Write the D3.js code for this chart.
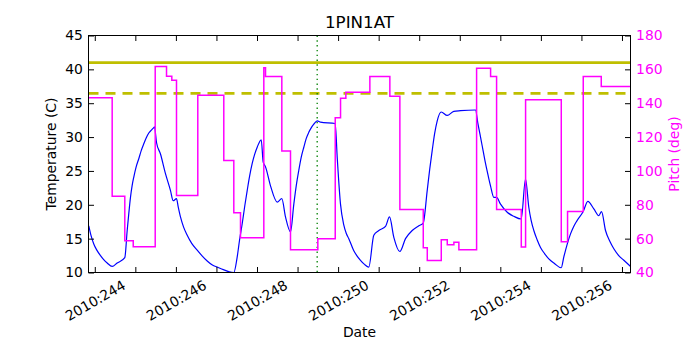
<!DOCTYPE html>
<html>
<head>
<meta charset="utf-8">
<script src="https://cdn.jsdelivr.net/npm/d3@7"></script>
<style>
  html, body { margin: 0; padding: 0; background: #ffffff; }
  svg { display: block; }
  text { font-family: "DejaVu Sans", sans-serif; }
</style>
</head>
<body>
<svg id="chart" width="700" height="350"></svg>
<script>
// ---- data ----
const title = "1PIN1AT";
const xTickDays = [244, 245, 246, 247, 248, 249, 250, 251, 252, 253, 254, 255, 256, 257];
const xLabelDays = [244, 246, 248, 250, 252, 254, 256];
const yLeftTicks = [10, 15, 20, 25, 30, 35, 40, 45];
const yRightTicks = [40, 60, 80, 100, 120, 140, 160, 180];
const xDomain = [243.845, 257.21];

const tempDays = [243.852, 243.91, 243.975, 244.05, 244.141, 244.22, 244.306, 244.429, 244.552, 244.740,
  244.799, 244.84, 244.880, 244.92, 244.962, 245.02, 245.085, 245.145, 245.208, 245.27,
  245.332, 245.39, 245.455, 245.472, 245.522, 245.620, 245.743, 245.867, 245.933, 246.015,
  246.06, 246.113, 246.19, 246.279, 246.39, 246.525, 246.64, 246.772, 246.9, 247.018,
  247.100, 247.428, 247.512, 247.57, 247.635, 247.70, 247.758, 247.82, 247.882, 247.94,
  248.005, 248.104, 248.153, 248.210, 248.333, 248.498, 248.612, 248.703, 248.826, 248.908,
  248.97, 249.031, 249.09, 249.154, 249.215, 249.277, 249.34, 249.401, 249.485, 249.566,
  249.928, 249.978, 250.059, 250.141, 250.2, 250.264, 250.387, 250.46, 250.552, 250.65,
  250.757, 250.880, 251.004, 251.169, 251.268, 251.374, 251.522, 251.662, 251.827, 251.990,
  252.099, 252.197, 252.26, 252.320, 252.38, 252.444, 252.543, 252.690, 252.853, 253.018,
  253.388, 253.45, 253.512, 253.575, 253.635, 253.70, 253.758, 253.840, 253.906, 254.005,
  254.170, 254.333, 254.515, 254.621, 254.703, 254.76, 254.826, 254.91, 254.991, 255.09,
  255.196, 255.34, 255.502, 255.566, 255.65, 255.731, 255.81, 255.896, 256.044, 256.158,
  256.306, 256.429, 256.496, 256.594, 256.70, 256.799, 256.92, 257.046, 257.211];
const temps = [16.9, 15.4, 14.2, 13.3, 12.5, 11.9, 11.4, 10.9, 11.4, 12.2,
  16.2, 18.8, 21.1, 22.8, 24.1, 25.6, 26.8, 28.0, 29.0, 29.9,
  30.6, 31.0, 31.4, 31.5, 29.2, 27.5, 24.6, 22.1, 20.6, 20.9,
  19.6, 18.2, 16.7, 15.5, 14.3, 13.3, 12.5, 11.7, 11.1, 10.8,
  10.6, 10.0, 12.3, 14.8, 17.2, 19.9, 22.1, 24.3, 26.1, 27.4,
  28.5, 29.6, 26.3, 25.6, 22.8, 20.4, 20.9, 18.2, 16.0, 20.1,
  22.9, 25.1, 27.0, 28.5, 29.8, 30.7, 31.4, 31.9, 32.4, 32.2,
  32.0, 27.0, 20.1, 17.0, 15.8, 15.0, 13.2, 12.5, 11.8, 11.2,
  10.8, 15.5, 16.2, 16.8, 18.2, 15.2, 13.1, 15.0, 16.2, 16.9,
  17.3, 22.1, 25.3, 28.0, 30.5, 32.4, 33.7, 33.2, 33.8, 33.9,
  34.0, 31.9, 30.0, 28.0, 26.1, 24.3, 22.8, 21.1, 21.1, 20.1,
  18.9, 18.3, 17.9, 23.8, 19.6, 17.7, 16.2, 14.8, 13.7, 12.8,
  12.0, 11.3, 10.7, 12.3, 14.2, 15.7, 16.8, 17.7, 19.0, 20.5,
  19.4, 18.4, 19.0, 16.2, 14.6, 13.5, 12.5, 11.8, 10.9];

const pitchDays = [243.845, 244.429, 244.740, 244.948, 245.490, 245.769, 245.899, 246.015, 246.540, 247.181,
  247.428, 247.593, 248.168, 248.210, 248.612, 248.826, 249.500, 249.929, 250.060, 250.191,
  250.783, 251.276, 251.523, 252.100, 252.199, 252.544, 252.692, 252.855, 252.978, 253.415,
  253.760, 253.908, 254.517, 254.623, 255.503, 255.658, 256.045, 256.489, 257.21];
const pitchVals = [143.2, 85.1, 58.7, 55.2, 161.7, 156.0, 153.6, 85.5, 144.7, 106.2,
  75.3, 60.5, 161.0, 155.8, 111.7, 53.4, 59.9, 131.4, 143.0, 146.5,
  155.8, 144.1, 77.2, 54.6, 47.1, 59.3, 56.4, 57.9, 53.4, 160.7,
  155.8, 77.2, 55.0, 142.0, 58.1, 76.0, 155.8, 149.9, 149.9];

const limitSolid = [41.0];
const limitDashed = [36.45];
const markerDay = [249.484];

// ---- layout ----
const L = 88.5, R = 630.5, T = 35.5, B = 272.5;
const svg = d3.select("#chart");

const x = d3.scaleLinear().domain(xDomain).range([L, R]);
const yL = d3.scaleLinear().domain([10, 45]).range([B, T]);
const yR = d3.scaleLinear().domain([40, 180]).range([B, T]);

svg.append("defs").append("clipPath").attr("id", "plotclip")
  .append("rect").attr("x", L).attr("y", T).attr("width", R - L).attr("height", B - T);

const plot = svg.append("g").attr("clip-path", "url(#plotclip)");

// temperature line
const tempData = tempDays.map((d, i) => [d, temps[i]]);
plot.append("path").datum(tempData)
  .attr("fill", "none").attr("stroke", "#0000ff").attr("stroke-width", 1.2)
  .attr("stroke-linejoin", "round")
  .attr("d", d3.line().curve(d3.curveMonotoneX).x(d => x(d[0])).y(d => yL(d[1])));

// limit lines
plot.selectAll(".lim-solid").data(limitSolid).enter().append("line")
  .attr("x1", L).attr("x2", R).attr("y1", d => yL(d)).attr("y2", d => yL(d))
  .attr("stroke", "#bfbf00").attr("stroke-width", 2.8);
plot.selectAll(".lim-dash").data(limitDashed).enter().append("line")
  .attr("x1", L).attr("x2", R).attr("y1", d => yL(d)).attr("y2", d => yL(d))
  .attr("stroke", "#bfbf00").attr("stroke-width", 2.8).attr("stroke-dasharray", "10,7");

// marker vertical line
plot.selectAll(".marker").data(markerDay).enter().append("line")
  .attr("x1", d => x(d)).attr("x2", d => x(d)).attr("y1", T).attr("y2", B)
  .attr("stroke", "#008000").attr("stroke-width", 1.3).attr("stroke-dasharray", "1.4,3.4");

// pitch step line
const pitchData = pitchDays.map((d, i) => [d, pitchVals[i]]);
plot.append("path").datum(pitchData)
  .attr("fill", "none").attr("stroke", "#ff00ff").attr("stroke-width", 1.5)
  .attr("d", d3.line().curve(d3.curveStepAfter).x(d => x(d[0])).y(d => yR(d[1])));

// ---- axes ----
const tick = 5.5, pad = 5.6;
const fs = "13.9px";

const gB = svg.append("g").attr("transform", `translate(0,${B})`)
  .call(d3.axisBottom(x).tickValues(xTickDays).tickSize(-tick).tickPadding(pad)
    .tickFormat(d => xLabelDays.includes(d) ? "2010:" + d : ""));
gB.selectAll("text")
  .attr("y", 0).attr("dy", "0.35em").attr("text-anchor", "middle")
  .attr("transform", "translate(0,28) rotate(-30)")
  .style("font-size", fs).attr("fill", "#000");

const gT = svg.append("g").attr("transform", `translate(0,${T})`)
  .call(d3.axisTop(x).tickValues(xTickDays).tickSize(-tick).tickFormat(""));

const gL = svg.append("g").attr("transform", `translate(${L},0)`)
  .call(d3.axisLeft(yL).tickValues(yLeftTicks).tickSize(-tick).tickPadding(pad));
gL.selectAll("text").style("font-size", fs).attr("fill", "#000");

const gR = svg.append("g").attr("transform", `translate(${R},0)`)
  .call(d3.axisRight(yR).tickValues(yRightTicks).tickSize(-tick).tickPadding(pad));
gR.selectAll("text").style("font-size", fs).attr("fill", "#ff00ff");

[gB, gT, gL, gR].forEach(g => {
  g.select(".domain").remove();
  g.selectAll(".tick line").attr("stroke", "#000").attr("stroke-width", 1);
  g.selectAll("text").style("font-family", "DejaVu Sans");
});

// frame
svg.append("rect").attr("x", L).attr("y", T).attr("width", R - L).attr("height", B - T)
  .attr("fill", "none").attr("stroke", "#000").attr("stroke-width", 1);

// labels
svg.append("text").attr("x", (L + R) / 2).attr("y", 28).attr("text-anchor", "middle")
  .style("font-size", "16.7px").text(title);
svg.append("text").attr("x", (L + R) / 2).attr("y", 337).attr("text-anchor", "middle")
  .style("font-size", fs).text("Date");
svg.append("text").attr("transform", `translate(56,${(T + B) / 2}) rotate(-90)`)
  .attr("text-anchor", "middle").style("font-size", fs).text("Temperature (C)");
svg.append("text").attr("transform", `translate(679,${(T + B) / 2}) rotate(-90)`)
  .attr("text-anchor", "middle").style("font-size", fs).attr("fill", "#ff00ff").text("Pitch (deg)");
</script>
</body>
</html>
